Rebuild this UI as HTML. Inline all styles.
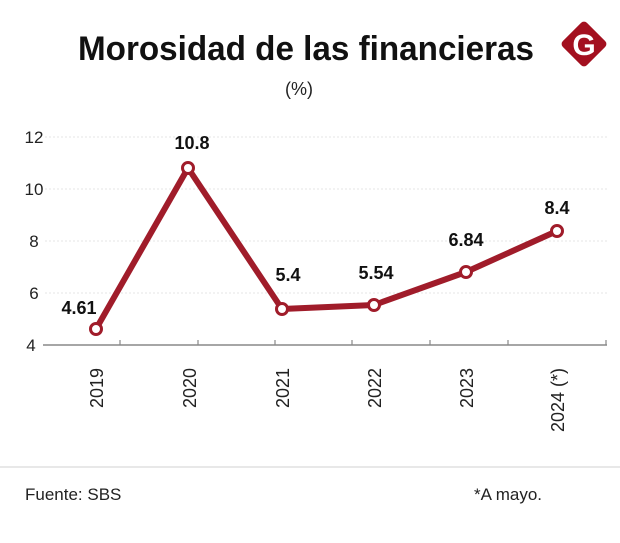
<!DOCTYPE html>
<html><head><style>body{margin:0;background:#fff}</style></head><body>
<svg width="620" height="538" xmlns="http://www.w3.org/2000/svg" font-family="Liberation Sans, sans-serif">
<rect width="620" height="538" fill="#fff"/>
<text x="306" y="60" text-anchor="middle" font-size="34" font-weight="bold" textLength="456" lengthAdjust="spacingAndGlyphs" fill="#111">Morosidad de las financieras</text>
<g transform="translate(584,44)">
<rect x="-17" y="-17" width="34" height="34" rx="4" fill="#a3101f" transform="rotate(45)"/>
<text x="0" y="11" text-anchor="middle" font-size="30" font-weight="bold" fill="#fff">G</text>
</g>
<text x="299" y="95" text-anchor="middle" font-size="18" fill="#222">(%)</text>
<g stroke="#e6e6e6" stroke-width="1" stroke-dasharray="2,2">
<line x1="45" y1="137" x2="607" y2="137"/><line x1="45" y1="189" x2="607" y2="189"/>
<line x1="45" y1="241" x2="607" y2="241"/><line x1="45" y1="293" x2="607" y2="293"/>
</g>
<g font-size="17" fill="#222" text-anchor="middle">
<text x="34" y="143">12</text><text x="34" y="195">10</text><text x="34" y="247">8</text><text x="34" y="299">6</text><text x="31" y="351">4</text>
</g>
<line x1="43" y1="345" x2="607" y2="345" stroke="#888" stroke-width="1.5"/>
<g stroke="#888" stroke-width="1.2">
<line x1="120" y1="340" x2="120" y2="345"/><line x1="198" y1="340" x2="198" y2="345"/><line x1="275" y1="340" x2="275" y2="345"/>
<line x1="352" y1="340" x2="352" y2="345"/><line x1="430" y1="340" x2="430" y2="345"/><line x1="508" y1="340" x2="508" y2="345"/><line x1="606" y1="340" x2="606" y2="345"/>
</g>
<polyline points="96,329 188,168 282,309 374,305 466,272 557,231" fill="none" stroke="#a01c2a" stroke-width="6" stroke-linejoin="round"/>
<g fill="#fff" stroke="#a01c2a" stroke-width="3">
<circle cx="96" cy="329" r="5.5"/><circle cx="188" cy="168" r="5.5"/><circle cx="282" cy="309" r="5.5"/>
<circle cx="374" cy="305" r="5.5"/><circle cx="466" cy="272" r="5.5"/><circle cx="557" cy="231" r="5.5"/>
</g>
<g font-size="18" font-weight="bold" fill="#111" text-anchor="middle">
<text x="79" y="314">4.61</text><text x="192" y="149">10.8</text><text x="288" y="281">5.4</text>
<text x="376" y="279">5.54</text><text x="466" y="246">6.84</text><text x="557" y="214">8.4</text>
</g>
<g font-size="18" fill="#222" text-anchor="end">
<text transform="translate(103,368) rotate(-90)">2019</text>
<text transform="translate(196,368) rotate(-90)">2020</text>
<text transform="translate(289,368) rotate(-90)">2021</text>
<text transform="translate(381,368) rotate(-90)">2022</text>
<text transform="translate(473,368) rotate(-90)">2023</text>
<text transform="translate(564,368) rotate(-90)">2024 (*)</text>
</g>
<line x1="0" y1="467" x2="620" y2="467" stroke="#d0d0d0" stroke-width="1"/>
<text x="25" y="500" font-size="17" fill="#222">Fuente: SBS</text>
<text x="474" y="500" font-size="17" fill="#222">*A mayo.</text>
</svg>
</body></html>
